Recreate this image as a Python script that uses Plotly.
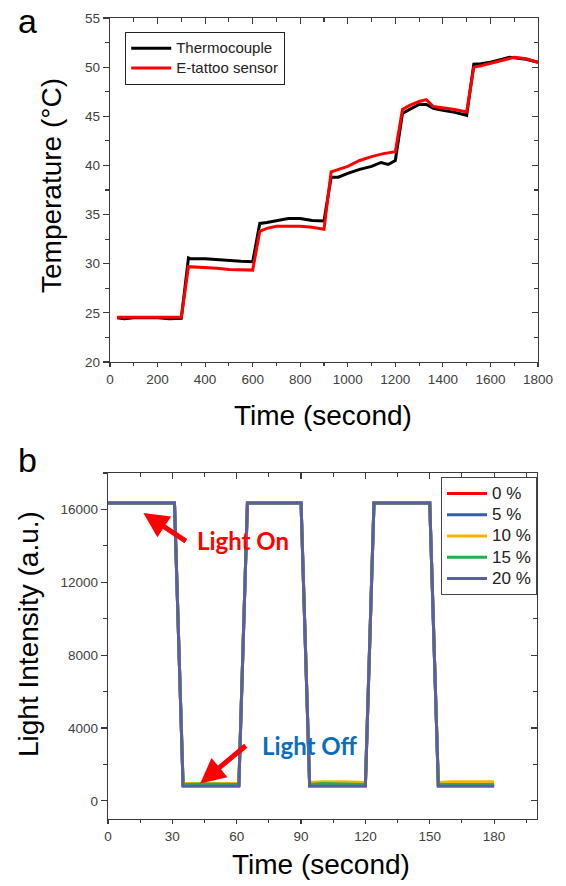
import plotly.graph_objects as go

# ---------------- Panel a data ----------------
time_tc = [30, 60, 100, 200, 250, 300, 330, 340, 400, 450, 500, 550, 600, 630, 660, 700, 750, 800, 850, 900,
           930, 960, 1000, 1050, 1100, 1140, 1170, 1200, 1230, 1260, 1300, 1330, 1360, 1400, 1450, 1500,
           1530, 1560, 1600, 1650, 1680, 1700, 1750, 1800]
temp_tc = [24.5, 24.4, 24.5, 24.5, 24.4, 24.45, 30.6, 30.5, 30.5, 30.4, 30.3, 30.25, 30.2, 34.1, 34.2, 34.4, 34.6, 34.6, 34.4, 34.35,
           38.8, 38.8, 39.2, 39.6, 39.9, 40.3, 40.1, 40.5, 45.3, 45.7, 46.2, 46.2, 45.8, 45.6, 45.4, 45.1,
           50.3, 50.35, 50.5, 50.8, 51.0, 50.95, 50.8, 50.5]
time_et = [30, 300, 330, 400, 450, 500, 550, 600, 630, 660, 700, 800, 850, 900,
           930, 1000, 1050, 1100, 1150, 1200, 1230, 1260, 1300, 1330, 1360, 1400, 1450, 1500,
           1530, 1560, 1600, 1650, 1680, 1700, 1750, 1800]
temp_et = [24.55, 24.55, 29.7, 29.6, 29.55, 29.4, 29.35, 29.35, 33.3, 33.6, 33.8, 33.8, 33.7, 33.5,
           39.35, 39.9, 40.5, 40.9, 41.2, 41.4, 45.7, 46.1, 46.5, 46.7, 46.0, 45.9, 45.7, 45.45,
           50.0, 50.15, 50.4, 50.7, 50.95, 51.0, 50.85, 50.5]
x_ticks_a = [0, 200, 400, 600, 800, 1000, 1200, 1400, 1600, 1800]
y_ticks_a = [20, 25, 30, 35, 40, 45, 50, 55]

# ---------------- Panel b data ----------------
time_b = [0, 31, 35, 61, 65, 90, 94, 120, 124, 150, 154, 180]
int_0 = [16350, 16350, 850, 850, 16350, 16350, 850, 850, 16350, 16350, 850, 850]
int_5 = [16350, 16350, 850, 850, 16350, 16350, 850, 850, 16350, 16350, 850, 850]
time_b10 = [0, 31, 35, 45, 61, 65, 90, 94, 100, 110, 120, 124, 150, 154, 160, 180]
int_10 = [16350, 16350, 950, 950, 950, 16350, 16350, 1000, 1050, 1050, 1000, 16350, 16350, 1000, 1050, 1050]
time_b15 = [0, 31, 35, 45, 61, 65, 90, 94, 100, 120, 124, 150, 154, 180]
int_15 = [16350, 16350, 900, 920, 900, 16350, 16350, 900, 950, 900, 16350, 16350, 900, 900]
int_20 = [16350, 16350, 800, 800, 16350, 16350, 800, 800, 16350, 16350, 800, 800]
x_ticks_b = [0, 30, 60, 90, 120, 150, 180]
y_ticks_b = [0, 4000, 8000, 12000, 16000]

W, H = 566, 886
def px(x):
    return x / W
def py(y):
    return 1 - y / H

FONT = "Liberation Sans, Arial, sans-serif"
AX = "#3a3a3a"

fig = go.Figure()

def lg(name, size):
    return f"<span style='font-size:{size}px'>{name}</span>"

# panel a traces
fig.add_trace(go.Scatter(x=time_tc, y=temp_tc, mode="lines", name=lg("Thermocouple", 15),
                         line=dict(color="black", width=3), xaxis="x", yaxis="y", legend="legend"))
fig.add_trace(go.Scatter(x=time_et, y=temp_et, mode="lines", name=lg("E-tattoo sensor", 15),
                         line=dict(color="#ff0000", width=3), xaxis="x", yaxis="y", legend="legend"))

# panel b traces
series_b = [
    ("0 %", time_b, int_0, "#ff0000"),
    ("5 %", time_b, int_5, "#2e5fa8"),
    ("10 %", time_b10, int_10, "#f7b500"),
    ("15 %", time_b15, int_15, "#22b14c"),
    ("20 %", time_b, int_20, "#5c5ea3"),
]
for name, tx, vy, col in series_b:
    fig.add_trace(go.Scatter(x=tx, y=vy, mode="lines", name=lg(name, 17),
                             line=dict(color=col, width=3), xaxis="x2", yaxis="y2", legend="legend2"))

dom_xa = [px(110), px(538)]
dom_ya = [py(362), py(18)]
dom_xb = [px(108), px(537)]
dom_yb = [py(819), py(473)]

def base_axis(dom, rng, minor_dtick, tickvals, side, anchor, show_labels, tickdir, ticklen, overlaying=None):
    d = dict(domain=dom, range=rng, side=side, anchor=anchor,
             showline=True, linecolor=AX, linewidth=1.3, mirror=False,
             ticks=tickdir, ticklen=ticklen, tickwidth=1.2, tickcolor=AX,
             tickmode="array", tickvals=tickvals,
             showticklabels=show_labels, tickformat="d",
             tickfont=dict(family=FONT, size=13.5, color="#404040"),
             minor=dict(ticks=tickdir, ticklen=ticklen * 0.6, tickwidth=1.1, tickcolor=AX,
                        tickmode="linear", dtick=minor_dtick, tick0=0, showgrid=False),
             showgrid=False, zeroline=False, fixedrange=True, automargin=False)
    if overlaying:
        d["overlaying"] = overlaying
    return d

xa = base_axis(dom_xa, [0, 1800], 100, x_ticks_a, "bottom", "y", True, "outside", 4)
ya = base_axis(dom_ya, [20, 55], 2.5, y_ticks_a, "left", "x", True, "outside", 6)
xa3 = base_axis(dom_xa, [0, 1800], 100, x_ticks_a, "top", "y", False, "inside", 6, overlaying="x")
ya3 = base_axis(dom_ya, [20, 55], 2.5, y_ticks_a, "right", "x", False, "inside", 6, overlaying="y")

xb = base_axis(dom_xb, [0, 200], 15, x_ticks_b, "bottom", "y2", True, "outside", 4)
yb = base_axis(dom_yb, [-1000, 18000], 2000, y_ticks_b, "left", "x2", True, "outside", 6)
xb4 = base_axis(dom_xb, [0, 200], 15, x_ticks_b, "top", "y2", False, "inside", 6, overlaying="x2")
yb4 = base_axis(dom_yb, [-1000, 18000], 2000, y_ticks_b, "right", "x2", False, "inside", 6, overlaying="y2")

# invisible traces so that mirror axes are drawn
fig.add_trace(go.Scatter(x=[], y=[], xaxis="x3", yaxis="y3", showlegend=False, hoverinfo="skip"))
fig.add_trace(go.Scatter(x=[], y=[], xaxis="x4", yaxis="y4", showlegend=False, hoverinfo="skip"))

fig.update_layout(
    width=W, height=H,
    margin=dict(l=0, r=0, t=0, b=0, pad=0, autoexpand=False),
    paper_bgcolor="white", plot_bgcolor="rgba(0,0,0,0)",
    xaxis=xa, yaxis=ya, xaxis3=xa3, yaxis3=ya3,
    xaxis2=xb, yaxis2=yb, xaxis4=xb4, yaxis4=yb4,
    legend=dict(x=px(125), y=py(32), xanchor="left", yanchor="top",
                bordercolor="#222", borderwidth=1.2, bgcolor="white",
                font=dict(family=FONT, size=13, color="#222"),
                tracegroupgap=0, itemwidth=40),
    legend2=dict(x=px(441), y=py(477), xanchor="left", yanchor="top",
                 bordercolor="#444", borderwidth=1, bgcolor="white",
                 font=dict(family=FONT, size=14, color="#222"),
                 tracegroupgap=0, itemwidth=40),
    showlegend=True,
    hovermode=False,
)

def pa(text, x, y, size, angle=0, yanchor="middle"):
    return dict(text=text, x=px(x), y=py(y), xref="paper", yref="paper", xanchor="center", yanchor=yanchor,
                showarrow=False, textangle=angle, font=dict(family=FONT, size=size, color="black"))

ann = [
    pa("a", 27, 0, 34, yanchor="top"),
    pa("b", 27, 460, 34),
    pa("Temperature (°C)", 51, 186, 28, -90),
    pa("Time (second)", 323, 415, 28),
    pa("Light Intensity (a.u.)", 28, 634, 28, -90),
    pa("Time (second)", 321, 864, 28),
]
# Light On / Off
ann.append(dict(text="<b>Light On</b>", x=63, y=14300, xref="x2", yref="y2", xanchor="center", yanchor="middle",
                showarrow=False, font=dict(family="Lato, Open Sans, sans-serif", size=24, color="#ff0000")))
ann.append(dict(text="", x=16.5, y=15800, xref="x2", yref="y2", showarrow=True,
                ax=44, ay=29, arrowcolor="#ff0000", arrowwidth=5, arrowhead=2, arrowsize=1.0))
ann.append(dict(text="<b>Light Off</b>", x=94, y=3020, xref="x2", yref="y2", xanchor="center", yanchor="middle",
                showarrow=False, font=dict(family="Lato, Open Sans, sans-serif", size=24, color="#0a6ebd")))
ann.append(dict(text="", x=43, y=950, xref="x2", yref="y2", showarrow=True,
                ax=47, ay=-39, arrowcolor="#ff0000", arrowwidth=5, arrowhead=2, arrowsize=1.0))
fig.update_layout(annotations=ann)

# remove the default 8px page margin so the 566x886 figure fills the window exactly
fig.write_html("out.html", config={"displayModeBar": False, "staticPlot": True},
               post_script="document.body.style.margin='0';document.documentElement.style.overflow='hidden';")
